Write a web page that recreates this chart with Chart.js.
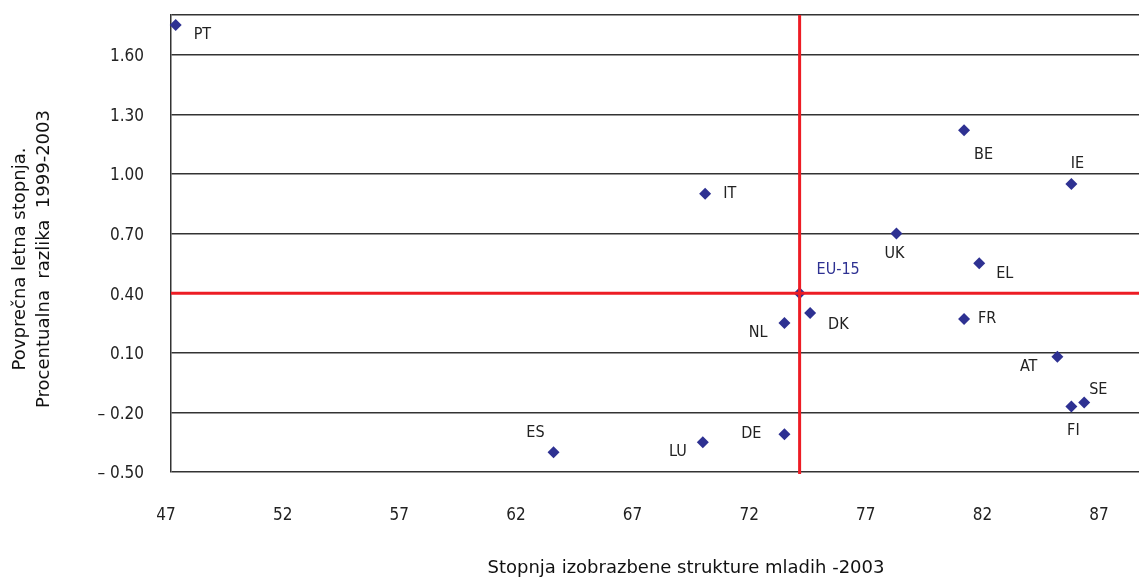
<!DOCTYPE html>
<html>
<head>
<meta charset="utf-8">
<title>Stopnja izobrazbene strukture mladih</title>
<script src="https://cdn.jsdelivr.net/npm/chart.js@4/dist/chart.umd.min.js"></script>
<style>
    html, body { margin: 0; padding: 0; background: #ffffff; }
    #wrap { width: 1139px; height: 581px; position: relative; }
</style>
</head>
<body>
<div id="wrap"><canvas id="scatterChart"></canvas></div>
<script>
// ==========================================
// Data
// ==========================================
const countries = ['PT', 'IT', 'BE', 'IE', 'UK', 'EU-15', 'EL', 'DK', 'NL', 'FR', 'AT', 'SE', 'FI', 'DE', 'LU', 'ES'];
const youthEducation = [47.2, 69.9, 81.0, 85.6, 78.1, 73.95, 81.65, 74.4, 73.3, 81.0, 85.0, 86.15, 85.6, 73.3, 69.8, 63.4];
const growthDiff = [1.75, 0.90, 1.22, 0.95, 0.70, 0.40, 0.55, 0.30, 0.25, 0.27, 0.08, -0.15, -0.17, -0.31, -0.35, -0.40];

const xTicks = [47, 52, 57, 62, 67, 72, 77, 82, 87];
const yTicks = [-0.50, -0.20, 0.10, 0.40, 0.70, 1.00, 1.30, 1.60];
const xMin = 47, xMax = 88.5;
const yMin = -0.50, yMax = 1.80;

const euIndex = countries.indexOf('EU-15');

// label placement around each marker
const labelPos = {
    'PT': ['left', 18, 10],
    'IT': ['left', 18, 0],
    'BE': ['left', 10, 25],
    'IE': ['center', 6, -20],
    'UK': ['center', -2, 20],
    'EU-15': ['left', 17, -23],
    'EL': ['left', 17, 10],
    'DK': ['left', 18, 12],
    'NL': ['right', -17, 10],
    'FR': ['left', 14, 0],
    'AT': ['right', -20, 10],
    'SE': ['left', 5, -13],
    'FI': ['center', 2, 24],
    'DE': ['right', -23, 0],
    'LU': ['right', -16, 10],
    'ES': ['right', -9, -19]
};

const MARKER = '#2e3192';
const RED = '#ed1c24';
const INK = '#222222';
const GRID = '#333333';
const LABEL_FONT = "16px 'DejaVu Sans Condensed', 'DejaVu Sans', sans-serif";
const TITLE_FONT = "18px 'DejaVu Sans', sans-serif";

// ==========================================
// Plugins
// ==========================================
const pointLabels = {
    id: 'pointLabels',
    afterDatasetsDraw(chart) {
        const ctx = chart.ctx;
        const meta = chart.getDatasetMeta(2);
        ctx.save();
        ctx.font = LABEL_FONT;
        ctx.textBaseline = 'middle';
        meta.data.forEach((pt, i) => {
            const name = countries[i];
            const p = labelPos[name];
            ctx.textAlign = p[0];
            ctx.fillStyle = name === 'EU-15' ? MARKER : INK;
            ctx.fillText(name, pt.x + p[1], pt.y + p[2]);
        });
        ctx.restore();
    }
};

const axisTitles = {
    id: 'axisTitles',
    afterDraw(chart) {
        const ctx = chart.ctx;
        ctx.save();
        ctx.font = TITLE_FONT;
        ctx.fillStyle = '#111111';
        ctx.textAlign = 'center';
        ctx.textBaseline = 'middle';
        ctx.fillText('Stopnja izobrazbene strukture mladih -2003', 686, 568);

        ctx.translate(0, 259);
        ctx.rotate(-Math.PI / 2);
        ctx.fillText('Povprečna letna stopnja.', 0, 20);
        ctx.fillText('Procentualna  razlika  1999-2003', 0, 44);
        ctx.restore();
    }
};

// chart area edges come from the axis sizes only
function noEdgePadding(scale) {
    scale.paddingTop = 0;
    scale.paddingBottom = 0;
    scale.paddingLeft = 0;
    scale.paddingRight = 0;
}

// ==========================================
// Chart
// ==========================================
function initScatterChart() {
    const ctx = document.getElementById('scatterChart').getContext('2d');

    const points = countries.map((c, i) => ({ x: youthEducation[i], y: growthDiff[i] }));
    const euX = youthEducation[euIndex];
    const euY = growthDiff[euIndex];

    new Chart(ctx, {
        type: 'scatter',
        data: {
            datasets: [
                {
                    type: 'line',
                    data: [{ x: euX, y: yMin - 0.01 }, { x: euX, y: yMax }],
                    borderColor: RED,
                    borderWidth: 3,
                    pointRadius: 0,
                    clip: false
                },
                {
                    type: 'line',
                    data: [{ x: xMin, y: euY }, { x: xMax, y: euY }],
                    borderColor: RED,
                    borderWidth: 3,
                    pointRadius: 0
                },
                {
                    data: points,
                    pointStyle: 'rectRot',
                    pointRadius: 6,
                    pointBackgroundColor: MARKER,
                    pointBorderWidth: 0,
                    clip: false
                }
            ]
        },
        options: {
            responsive: true,
            maintainAspectRatio: false,
            animation: false,
            layout: {
                autoPadding: false,
                padding: { top: 15, right: 0, left: 0, bottom: 0 }
            },
            plugins: {
                legend: { display: false },
                tooltip: { enabled: false }
            },
            scales: {
                x: {
                    type: 'linear',
                    min: xMin,
                    max: xMax,
                    afterBuildTicks: function (scale) {
                        scale.ticks = xTicks.map(v => ({ value: v }));
                    },
                    afterFit: function (scale) {
                        scale.height = 109;
                        noEdgePadding(scale);
                    },
                    ticks: {
                        font: { family: "'DejaVu Sans Condensed', 'DejaVu Sans'", size: 17 },
                        color: INK,
                        padding: 33,
                        labelOffset: -5,
                        maxRotation: 0
                    },
                    grid: { display: false, drawTicks: false },
                    border: { display: false }
                },
                y: {
                    type: 'linear',
                    min: yMin,
                    max: yMax,
                    afterBuildTicks: function (scale) {
                        scale.ticks = yTicks.concat([yMax]).map(v => ({ value: v }));
                    },
                    afterFit: function (scale) {
                        scale.width = 171;
                        noEdgePadding(scale);
                    },
                    ticks: {
                        font: { family: "'DejaVu Sans Condensed', 'DejaVu Sans'", size: 17 },
                        color: INK,
                        padding: 27,
                        labelOffset: 2,
                        callback: function (value) {
                            if (!yTicks.some(t => Math.abs(t - value) < 1e-9)) return '';
                            return value < 0 ? '\u2013 ' + Math.abs(value).toFixed(2) : value.toFixed(2);
                        }
                    },
                    grid: { color: GRID, lineWidth: 1.5, drawTicks: false },
                    border: { display: true, color: GRID, width: 1.5 }
                }
            }
        },
        plugins: [pointLabels, axisTitles]
    });
}

document.addEventListener('DOMContentLoaded', initScatterChart);
</script>
</body>
</html>
